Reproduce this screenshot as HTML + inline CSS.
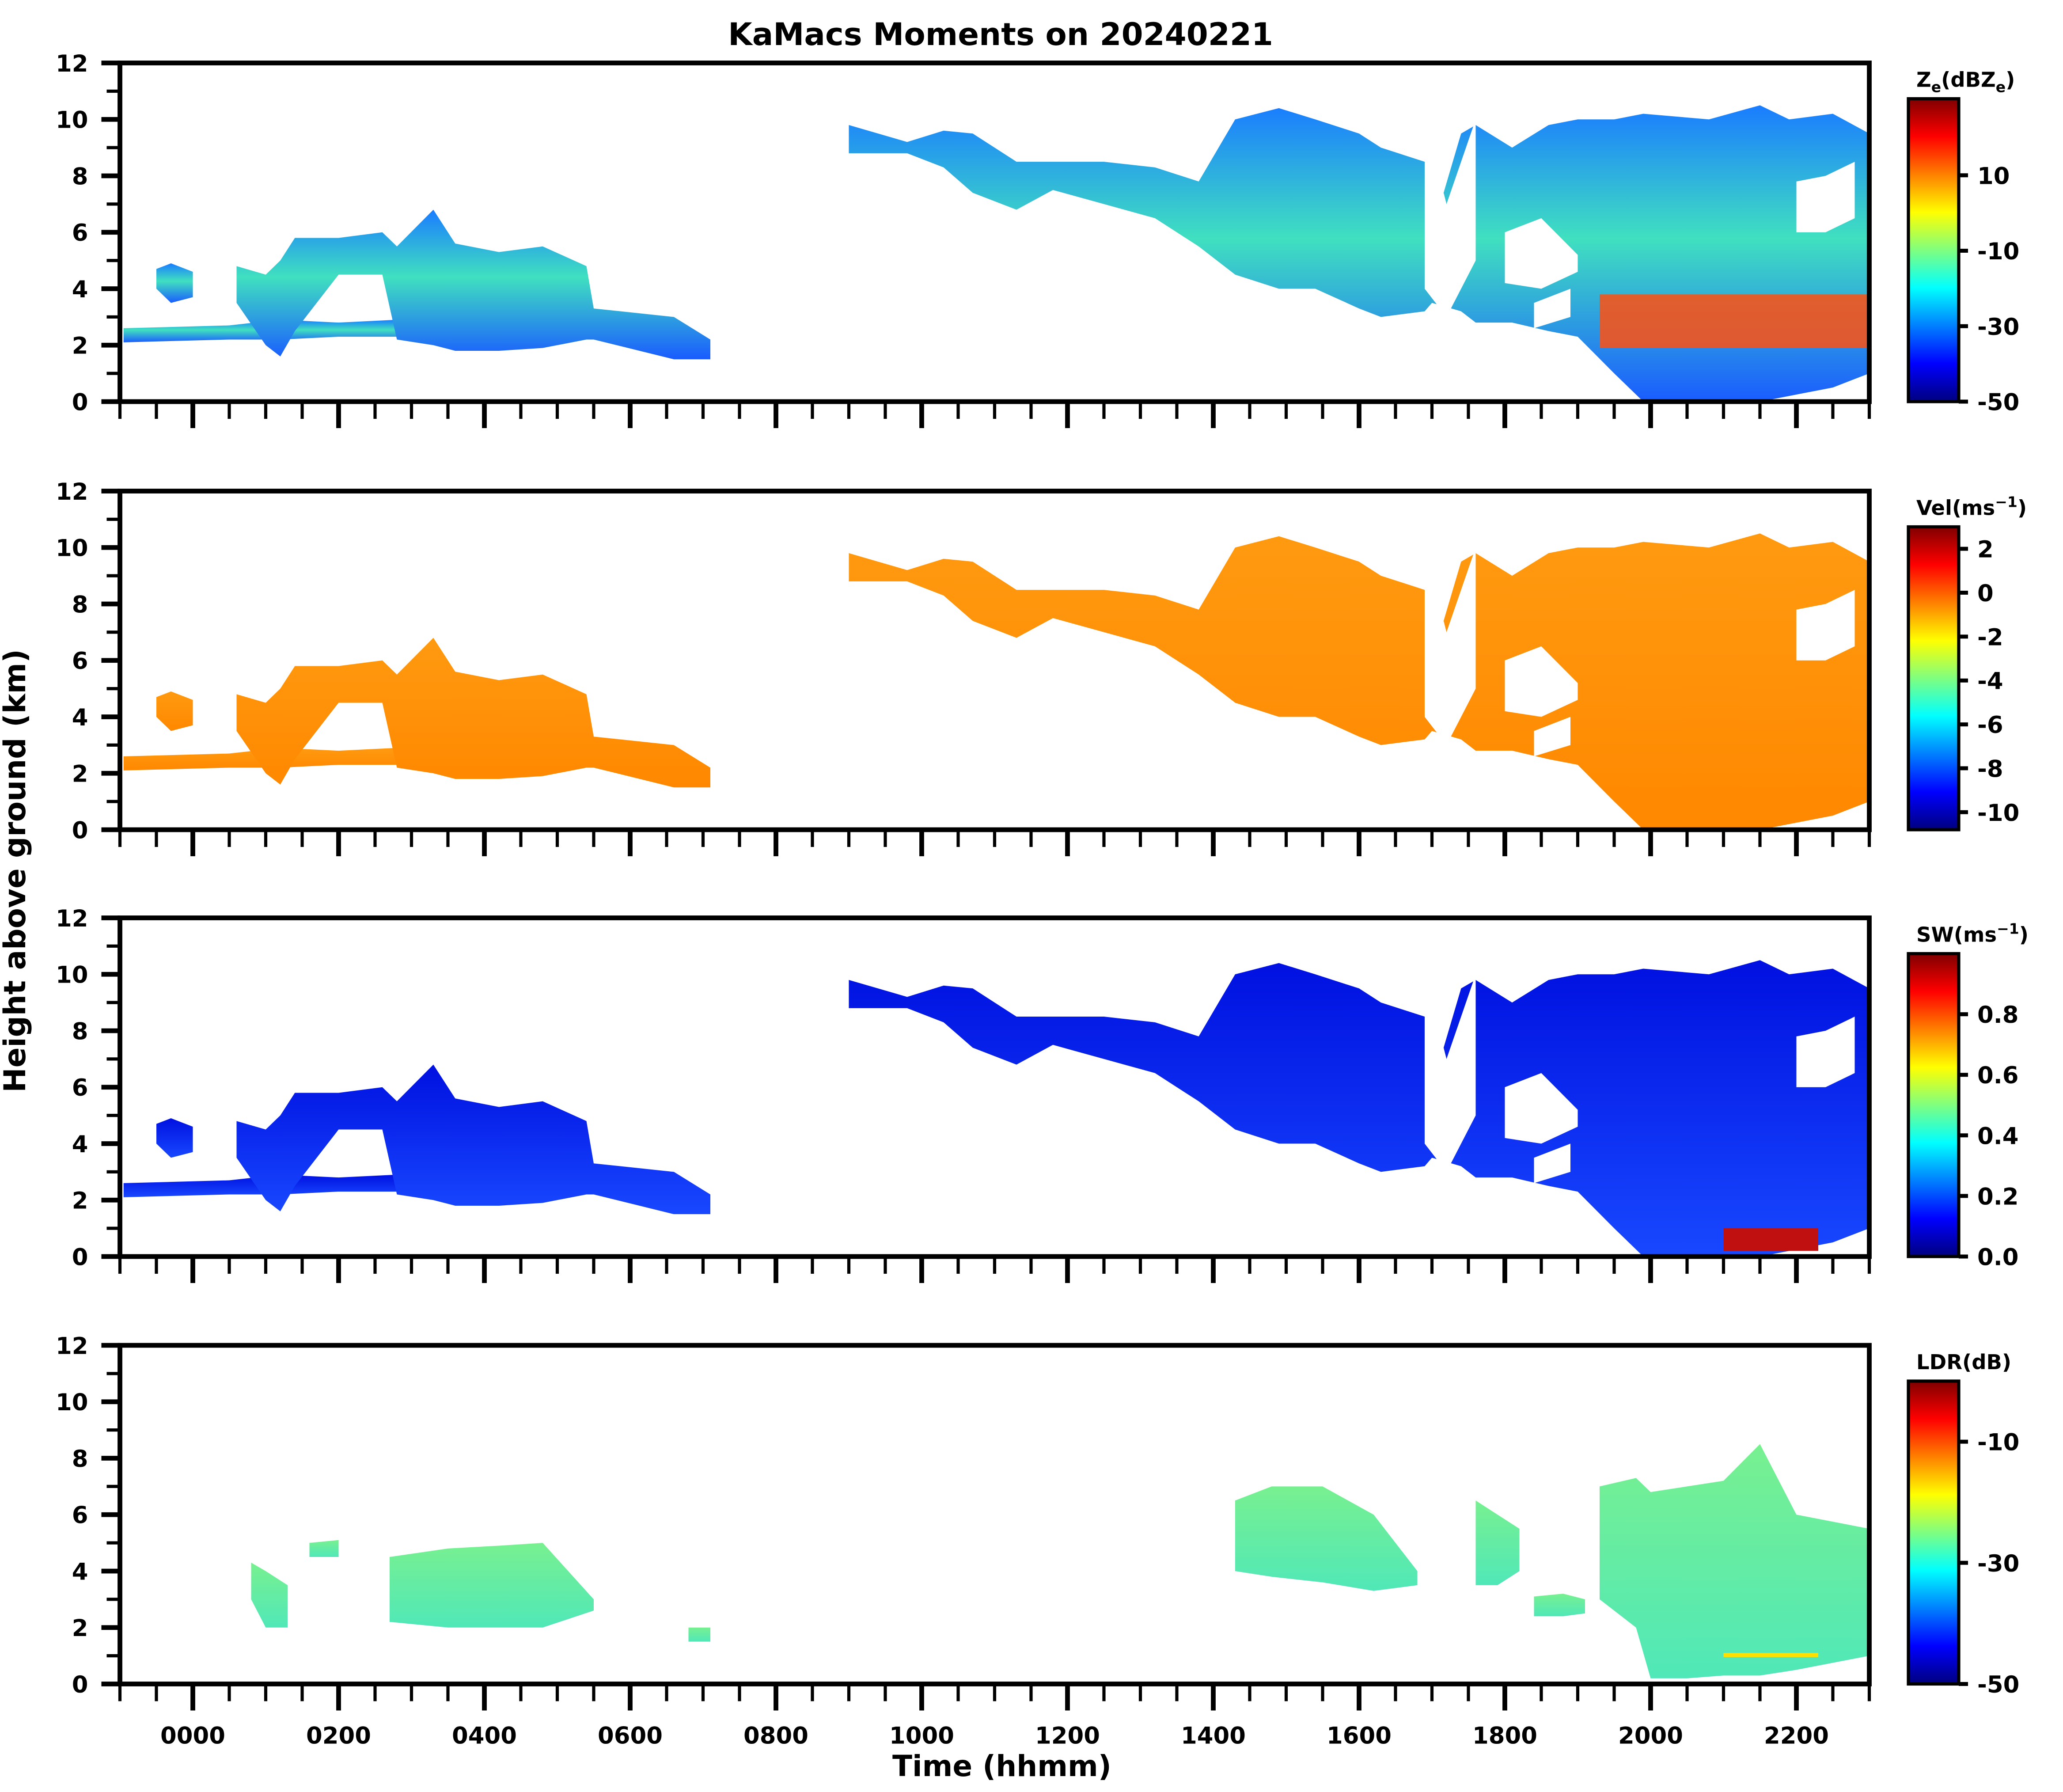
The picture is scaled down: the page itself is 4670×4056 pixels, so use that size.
<!DOCTYPE html>
<html><head><meta charset="utf-8"><style>
html,body{margin:0;padding:0;background:#fff}
svg{display:block}
text{font-family:"DejaVu Sans","Liberation Sans",sans-serif;font-weight:bold;fill:#000}
</style></head><body>
<svg id="fig" width="4670" height="4056" viewBox="0 0 1556.67 1352" xmlns="http://www.w3.org/2000/svg">
<defs>
<linearGradient id="jet" x1="0" y1="1" x2="0" y2="0">
<stop offset="0" stop-color="#00007f"/><stop offset="0.125" stop-color="#0000ff"/><stop offset="0.375" stop-color="#00ffff"/><stop offset="0.5" stop-color="#7fff7f"/><stop offset="0.625" stop-color="#ffff00"/><stop offset="0.875" stop-color="#ff0000"/><stop offset="1" stop-color="#7f0000"/>
</linearGradient>
<linearGradient id="g0" x1="0" y1="0" x2="0" y2="1"><stop offset="0" stop-color="#1a7cff"/><stop offset="0.45" stop-color="#40e0c0"/><stop offset="1" stop-color="#1a5cff"/></linearGradient>
<linearGradient id="g1" x1="0" y1="0" x2="0" y2="1"><stop offset="0" stop-color="#ff9a10"/><stop offset="1" stop-color="#ff8800"/></linearGradient>
<linearGradient id="g2" x1="0" y1="0" x2="0" y2="1"><stop offset="0" stop-color="#0010e0"/><stop offset="1" stop-color="#1848ff"/></linearGradient>
<linearGradient id="g3" x1="0" y1="0" x2="0" y2="1"><stop offset="0" stop-color="#78f090"/><stop offset="1" stop-color="#50e8b8"/></linearGradient>
</defs>
<text x="755" y="34" text-anchor="middle" font-size="23.5">KaMacs Moments on 20240221</text>
<text transform="translate(19,657) rotate(-90)" text-anchor="middle" font-size="22.5">Height above ground (km)</text>
<text x="756" y="1340" text-anchor="middle" font-size="22">Time (hhmm)</text>
<g id="plots"></g>
</svg>
<script>
// Cloud pieces: time (hours), base and top heights (km)
const layerTimes=[-0.95,0.5,1.2,2.0,2.8];
const layerBase=[2.1,2.2,2.2,2.3,2.3];
const layerTop=[2.6,2.7,2.9,2.8,2.9];
const blobTimes=[-0.5,-0.3,0.0];
const blobBase=[4.0,3.5,3.7];
const blobTop=[4.7,4.9,4.6];
const segATimes=[0.6,1.0,1.2,1.4,2.0,2.6,2.8,3.3,3.6,4.2,4.8,5.4,5.5,6.6,7.1];
const segABase=[3.5,2.0,1.6,2.5,4.5,4.5,2.2,2.0,1.8,1.8,1.9,2.2,2.2,1.5,1.5];
const segATop=[4.8,4.5,5.0,5.8,5.8,6.0,5.5,6.8,5.6,5.3,5.5,4.8,3.3,3.0,2.2];
const segBTimes=[9.0,9.8,10.3,10.7,11.3,11.8,12.5,13.2,13.8,14.3,14.9,15.4,16.0,16.3,16.9,17.0,17.4,17.6,18.1,18.6,19.0,19.5,19.9,20.8,21.5,21.9,22.5,23.0];
const segBBase=[8.8,8.8,8.3,7.4,6.8,7.5,7.0,6.5,5.5,4.5,4.0,4.0,3.3,3.0,3.2,3.5,3.2,2.8,2.8,2.5,2.3,1.0,0.0,0.0,0.0,0.2,0.5,1.0];
const segBTop=[9.8,9.2,9.6,9.5,8.5,8.5,8.5,8.3,7.8,10.0,10.4,10.0,9.5,9.0,8.5,6.0,9.5,9.8,9.0,9.8,10.0,10.0,10.2,10.0,10.5,10.0,10.2,9.5];
// white gaps inside the late clouds
const holeTimes=[[16.9,17.2,17.6],[18.0,18.5,19.0],[22.0,22.4,22.8],[18.4,18.9]];
const holeBase=[[4.0,3.0,5.0],[4.2,4.0,4.6],[6.0,6.0,6.5],[2.6,3.0]];
const holeTop=[[10.0,7.0,10.0],[6.0,6.5,5.2],[7.8,8.0,8.5],[3.5,4.0]];
// LDR regions
const ldrTimes=[[0.8,1.0,1.3],[1.6,2.0],[2.7,3.5,4.2,4.8,5.5],[6.8,7.1],[14.3,14.8,15.5,16.2,16.8],[17.6,17.9,18.2],[18.4,18.8,19.1],[19.3,19.8,20.0,20.5,21.0,21.5,22.0,23.0]];
const ldrBase=[[3.0,2.0,2.0],[4.5,4.5],[2.2,2.0,2.0,2.0,2.6],[1.5,1.5],[4.0,3.8,3.6,3.3,3.5],[3.5,3.5,4.0],[2.4,2.4,2.5],[3.0,2.0,0.2,0.2,0.3,0.3,0.5,1.0]];
const ldrTop=[[4.3,4.0,3.5],[5.0,5.1],[4.5,4.8,4.9,5.0,3.0],[2.0,2.0],[6.5,7.0,7.0,6.0,4.0],[6.5,6.0,5.5],[3.1,3.2,3.0],[7.0,7.3,6.8,7.0,7.2,8.5,6.0,5.5]];
const panelTops=[47.5,370.5,692.5,1015];
const cbTicks=[[10,-10,-30,-50],[2,0,-2,-4,-6,-8,-10],[0.8,0.6,0.4,0.2,0.0],[-10,-30,-50]];
const cbRange=[[-50,30.3],[-10.8,3],[0,1.0],[-50,0]];
const cbTitles=['Z<tspan font-size="11" baseline-shift="-4">e</tspan>(dBZ<tspan font-size="11" baseline-shift="-4">e</tspan>)','Vel(ms<tspan font-size="11" baseline-shift="6">−1</tspan>)','SW(ms<tspan font-size="11" baseline-shift="6">−1</tspan>)','LDR(dB)'];
const yTicks=[0,2,4,6,8,10,12];
const xLabels=['0000','0200','0400','0600','0800','1000','1200','1400','1600','1800','2000','2200'];

const NS='http://www.w3.org/2000/svg';
const root=document.getElementById('plots');
const X0=90.5,X1=1410.5,H=255.5;
const xs=t=>X0+(t+1)/24*(X1-X0);
function mk(tag,attrs,parent){const e=document.createElementNS(NS,tag);for(const k in attrs)e.setAttribute(k,attrs[k]);(parent||root).appendChild(e);return e;}
function poly(times,base,top,ys,fill,parent,name){
  let pts=[];
  times.forEach((t,i)=>pts.push(xs(t)+','+ys(top[i])));
  for(let i=times.length-1;i>=0;i--)pts.push(xs(times[i])+','+ys(base[i]));
  const p=mk('polygon',{points:pts.join(' '),fill:fill},parent);
  
  
  return p;
}
panelTops.forEach((pt,pi)=>{
  const g=mk('g',{});
  
  
  const ys=h=>pt+H-h/12*H;
  const fill='url(#g'+pi+')';
  if(pi<3){
    poly(layerTimes,layerBase,layerTop,ys,fill,g,'low-layer');
    poly(blobTimes,blobBase,blobTop,ys,fill,g,'small-blob');
    poly(segATimes,segABase,segATop,ys,fill,g,'cloud-early');
    poly(segBTimes,segBBase,segBTop,ys,fill,g,'cloud-late');
    holeTimes.forEach((tt,i)=>poly(tt,holeBase[i],holeTop[i],ys,'#fff',g,'cloud-gap'));
    if(pi===0){const r=mk('rect',{x:xs(19.3),y:ys(3.8),width:X1-xs(19.3),height:ys(1.9)-ys(3.8),fill:'#ff5010',opacity:0.85},g);
      }
    if(pi===2){const r=mk('rect',{x:xs(21.0),y:ys(1.0),width:xs(22.3)-xs(21.0),height:ys(0.2)-ys(1.0),fill:'#c01010'},g);
      }
  } else {
    ldrTimes.forEach((tt,i)=>poly(tt,ldrBase[i],ldrTop[i],ys,fill,g,'ldr-region'));
    const r=mk('rect',{x:xs(21.0),y:ys(1.1),width:xs(22.3)-xs(21.0),height:ys(0.95)-ys(1.1),fill:'#ffe000'},g);
    
  }
  const f=mk('rect',{x:X0,y:pt,width:X1-X0,height:H,fill:'none',stroke:'#000','stroke-width':3.6},g);
  
  for(let v=0;v<=12;v++){
    const y=ys(v);const major=v%2===0;
    mk('line',{x1:X0-(major?14:10),x2:X0,y1:y,y2:y,stroke:'#000','stroke-width':major?3.6:2.4},g);
  }
  yTicks.forEach(v=>{
    const t=mk('text',{x:X0-24,y:ys(v)+6.5,'text-anchor':'end','font-size':17.6},g);
    t.textContent=v;
    
    
  });
  for(let k=0;k<=48;k++){
    const t=-1+k*0.5;const x=xs(t);
    const major=Math.abs(t%2)<1e-6;
    const L=major?20:13;
    mk('line',{x1:x,x2:x,y1:pt+H,y2:pt+H+L,stroke:'#000','stroke-width':major?3.6:2.4},g);
  }
  if(pi===3){
    xLabels.forEach((lab,i)=>{
      const t=mk('text',{x:xs(i*2),y:pt+H+45,'text-anchor':'middle','font-size':17.6},g);
      t.textContent=lab;
      
      
    });
  }
  const cbTop=pt+27,cbBot=pt+H,cx=1440,cw=38;
  const cb=mk('rect',{x:cx,y:cbTop,width:cw,height:cbBot-cbTop,fill:'url(#jet)',stroke:'#000','stroke-width':2.4},g);
  
  const [lo,hi]=cbRange[pi];
  cbTicks[pi].forEach(v=>{
    const y=cbBot-(v-lo)/(hi-lo)*(cbBot-cbTop);
    mk('line',{x1:cx+cw,x2:cx+cw+7,y1:y,y2:y,stroke:'#000','stroke-width':3},g);
    const t=mk('text',{x:cx+cw+14,y:y+6.5,'font-size':17.6},g);
    t.textContent=(pi===2?v.toFixed(1):String(v));
    
    
  });
  const ct=mk('text',{x:cx+6,y:cbTop-9,'font-size':15.5},g);
  ct.innerHTML=cbTitles[pi];
  
  
});
</script>
</body></html>
